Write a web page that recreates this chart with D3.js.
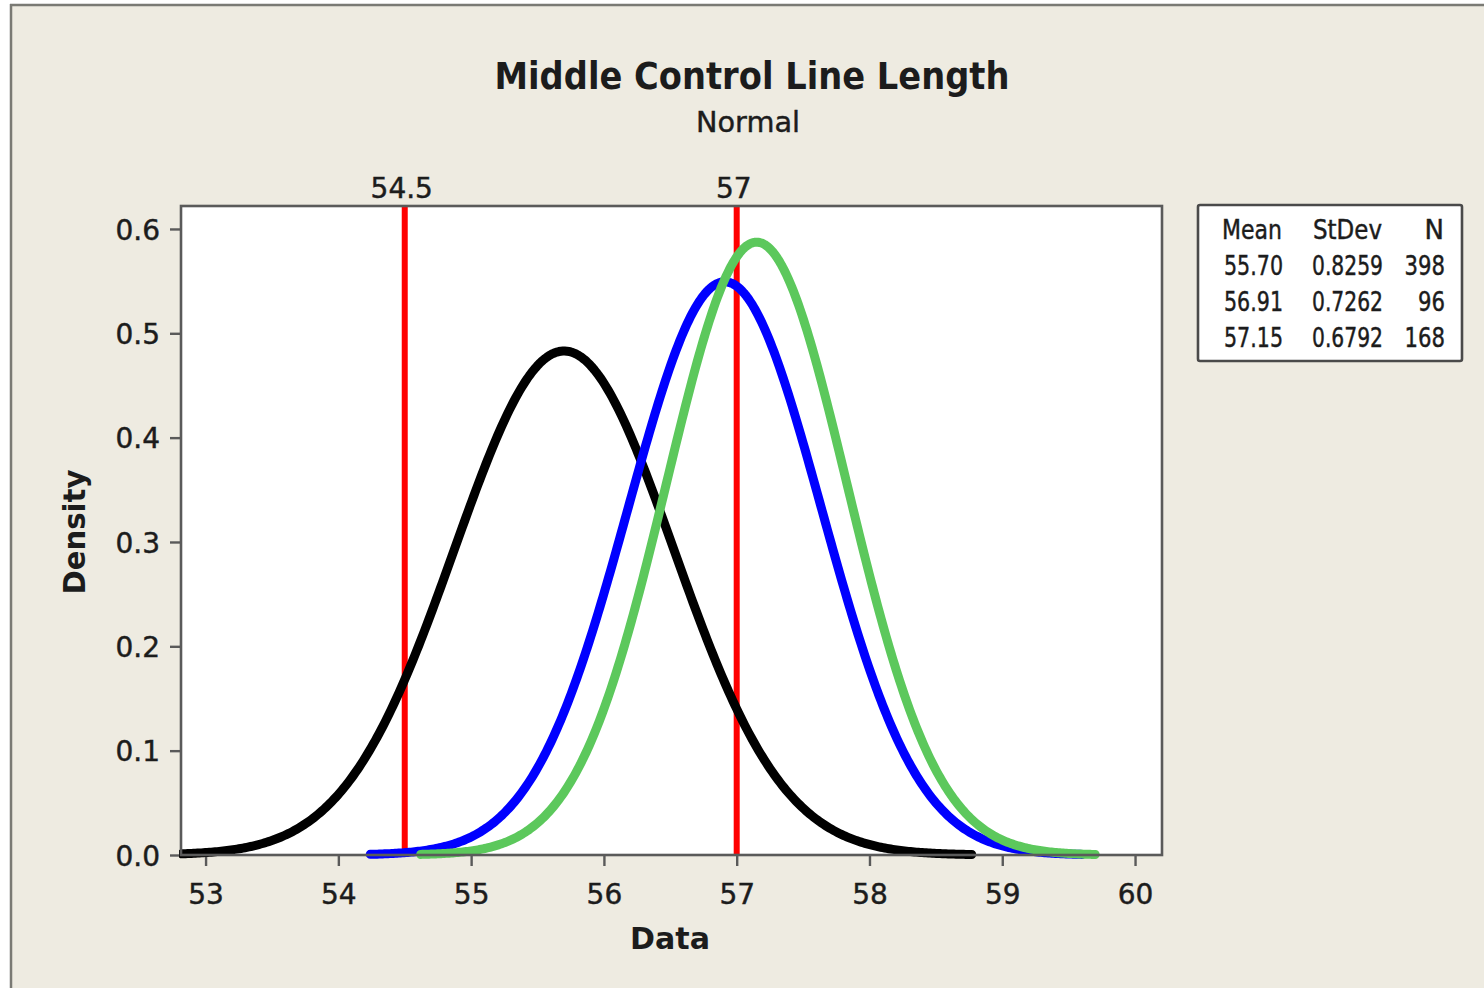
<!DOCTYPE html>
<html>
<head>
<meta charset="utf-8">
<script src="https://cdn.jsdelivr.net/npm/d3@7"></script>
<style>
  html, body { margin: 0; padding: 0; background: #ffffff; }
  svg { display: block; }
  text { font-family: "DejaVu Sans", sans-serif; fill: #1c1c1c; }
  .heavy { stroke: #1c1c1c; stroke-width: 0.45px; }
</style>
</head>
<body>
<svg id="chart" width="1484" height="988"></svg>
<script>
// ---- Data ----
const seriesNames = ["A", "B", "C"];
const means = [55.70, 56.91, 57.15];
const stdevs = [0.8259, 0.7262, 0.6792];
const counts = [398, 96, 168];
const meanLabels = ["55.70", "56.91", "57.15"];
const stdevLabels = ["0.8259", "0.7262", "0.6792"];
// visible extent of each fitted curve along the data axis
const curveStart = [52.82, 54.24, 54.62];
const curveEnd = [58.77, 59.60, 59.70];
const refLines = [54.5, 57];
const refLabels = ["54.5", "57"];
const xTicks = [53, 54, 55, 56, 57, 58, 59, 60];
const yTicks = [0.0, 0.1, 0.2, 0.3, 0.4, 0.5, 0.6];
const xDomain = [52.815, 60.203];
const yDomain = [0, 0.622];

// ---- Styles ----
const curveColors = ["#000000", "#0000ff", "#5cc85c"];
const bg = "#eeebe1";
const frameColor = "#5a5a5a";

const svg = d3.select("#chart");
const W = 1484, H = 988;

// background + outer frame
svg.append("rect").attr("x", 0).attr("y", 0).attr("width", W).attr("height", H).attr("fill", "#ffffff");
svg.append("rect").attr("x", 11).attr("y", 5).attr("width", W).attr("height", H).attr("fill", bg);
svg.append("line").attr("x1", 11).attr("x2", 11).attr("y1", 4).attr("y2", H).attr("stroke", "#7a7a74").attr("stroke-width", 2.5);
svg.append("line").attr("x1", 10).attr("x2", W).attr("y1", 5).attr("y2", 5).attr("stroke", "#7a7a74").attr("stroke-width", 2.5);

const plot = { left: 181, top: 206, right: 1162, bottom: 855 };
const x = d3.scaleLinear().domain(xDomain).range([plot.left, plot.right]);
const y = d3.scaleLinear().domain(yDomain).range([plot.bottom, plot.top]);

// plot area
svg.append("rect")
  .attr("x", plot.left).attr("y", plot.top)
  .attr("width", plot.right - plot.left).attr("height", plot.bottom - plot.top)
  .attr("fill", "#ffffff");

// Axes
const xAxis = d3.axisBottom(x).tickValues(xTicks).tickFormat(d3.format("d")).tickSizeOuter(0).tickSize(11).tickPadding(6);
const gx = svg.append("g").attr("transform", `translate(0,${plot.bottom})`).call(xAxis);
gx.select(".domain").remove();
gx.selectAll(".tick line").attr("stroke", frameColor).attr("stroke-width", 2.4);
gx.selectAll(".tick text").attr("font-size", 28).attr("fill", "#1c1c1c").attr("class", "heavy")
  .attr("dy", "0.72em").attr("y", 29);

const yAxis = d3.axisLeft(y).tickValues(yTicks).tickFormat(d3.format(".1f")).tickSizeOuter(0).tickSize(11).tickPadding(10);
const gy = svg.append("g").attr("transform", `translate(${plot.left},0)`).call(yAxis);
gy.select(".domain").remove();
gy.selectAll(".tick line").attr("stroke", frameColor).attr("stroke-width", 2.4);
gy.selectAll(".tick text").attr("font-size", 28).attr("fill", "#1c1c1c").attr("class", "heavy").attr("dy", "0.36em");

// clip for curves
svg.append("clipPath").attr("id", "plotclip").append("rect")
  .attr("x", plot.left - 2).attr("y", plot.top).attr("width", plot.right - plot.left + 4).attr("height", plot.bottom - plot.top + 6);

// reference lines
const refG = svg.append("g");
refG.selectAll("line").data(refLines).join("line")
  .attr("x1", d => x(d)).attr("x2", d => x(d))
  .attr("y1", plot.top).attr("y2", plot.bottom)
  .attr("stroke", "#ff0000").attr("stroke-width", 6);
refG.selectAll("text").data(refLabels).join("text")
  .attr("x", (d, i) => x(refLines[i]) - 3).attr("y", 198)
  .attr("text-anchor", "middle").attr("font-size", 28).attr("class", "heavy")
  .text(d => d);

// fitted normal density curves
const pdf = (v, m, s) => Math.exp(-0.5 * ((v - m) / s) ** 2) / (s * Math.sqrt(2 * Math.PI));
const line = d3.line().x(d => x(d[0])).y(d => y(d[1])).curve(d3.curveLinear);
const curveG = svg.append("g").attr("clip-path", "url(#plotclip)");
means.forEach((m, i) => {
  const n = 400;
  const pts = d3.range(n + 1).map(k => {
    const v = curveStart[i] + (curveEnd[i] - curveStart[i]) * k / n;
    return [v, pdf(v, m, stdevs[i])];
  });
  curveG.append("path").datum(pts)
    .attr("d", line)
    .attr("fill", "none")
    .attr("stroke", curveColors[i])
    .attr("stroke-width", 9)
    .attr("stroke-linecap", "round")
    .attr("stroke-linejoin", "round");
});

// plot frame
svg.append("rect")
  .attr("x", plot.left).attr("y", plot.top)
  .attr("width", plot.right - plot.left).attr("height", plot.bottom - plot.top)
  .attr("fill", "none").attr("stroke", frameColor).attr("stroke-width", 2.6);

// Titles
svg.append("text").attr("x", 752).attr("y", 89).attr("text-anchor", "middle")
  .attr("font-size", 37).attr("font-weight", "bold")
  .attr("textLength", 515).attr("lengthAdjust", "spacingAndGlyphs")
  .text("Middle Control Line Length");
svg.append("text").attr("x", 748).attr("y", 132).attr("text-anchor", "middle")
  .attr("font-size", 29).attr("class", "heavy")
  .attr("textLength", 104).attr("lengthAdjust", "spacingAndGlyphs")
  .text("Normal");
svg.append("text").attr("x", 670).attr("y", 949).attr("text-anchor", "middle")
  .attr("font-size", 31).attr("font-weight", "bold")
  .attr("textLength", 80).attr("lengthAdjust", "spacingAndGlyphs")
  .text("Data");
svg.append("text").attr("transform", "translate(85,532) rotate(-90)").attr("text-anchor", "middle")
  .attr("font-size", 31).attr("font-weight", "bold")
  .attr("textLength", 125).attr("lengthAdjust", "spacingAndGlyphs")
  .text("Density");

// Legend table
const lg = svg.append("g");
lg.append("rect").attr("x", 1198).attr("y", 205).attr("width", 264).attr("height", 156)
  .attr("fill", "#ffffff").attr("stroke", "#4a4a4a").attr("stroke-width", 2.6).attr("rx", 2);
const legFont = 26;
const hdrY = 239, rowStep = 36;
lg.append("text").attr("x", 1222).attr("y", hdrY).attr("font-size", legFont).attr("class", "heavy")
  .attr("textLength", 60).attr("lengthAdjust", "spacingAndGlyphs").text("Mean");
lg.append("text").attr("x", 1313).attr("y", hdrY).attr("font-size", legFont).attr("class", "heavy")
  .attr("textLength", 69).attr("lengthAdjust", "spacingAndGlyphs").text("StDev");
lg.append("text").attr("x", 1444).attr("y", hdrY).attr("font-size", legFont).attr("class", "heavy")
  .attr("text-anchor", "end").text("N");
seriesNames.forEach((s, i) => {
  const yy = hdrY + rowStep * (i + 1);
  lg.append("text").attr("x", 1224).attr("y", yy).attr("font-size", legFont).attr("class", "heavy")
    .attr("textLength", 59).attr("lengthAdjust", "spacingAndGlyphs").text(meanLabels[i]);
  lg.append("text").attr("x", 1312).attr("y", yy).attr("font-size", legFont).attr("class", "heavy")
    .attr("textLength", 71).attr("lengthAdjust", "spacingAndGlyphs").text(stdevLabels[i]);
  const nt = String(counts[i]);
  lg.append("text").attr("x", 1445).attr("y", yy).attr("font-size", legFont).attr("text-anchor", "end")
    .attr("class", "heavy")
    .attr("textLength", nt.length * 13.5).attr("lengthAdjust", "spacingAndGlyphs").text(nt);
});
</script>
</body>
</html>
